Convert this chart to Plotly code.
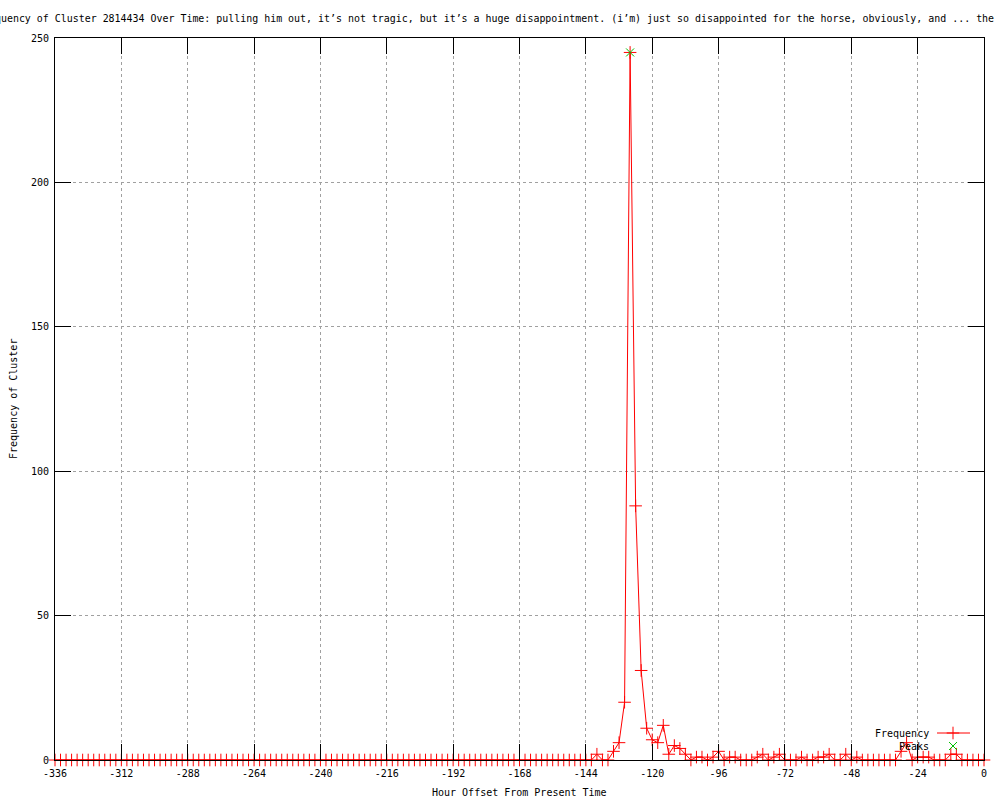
import plotly.graph_objects as go

# ---- data ----
hours = list(range(-336, 1, 2))
frequency = [
    # -336 .. -290
    0, 0, 0, 0, 0, 0, 0, 0, 0, 0, 0, 0, 0, 0, 0, 0, 0, 0, 0, 0, 0, 0, 0, 0,
    # -288 .. -242
    0, 0, 0, 0, 0, 0, 0, 0, 0, 0, 0, 0, 0, 0, 0, 0, 0, 0, 0, 0, 0, 0, 0, 0,
    # -240 .. -194
    0, 0, 0, 0, 0, 0, 0, 0, 0, 0, 0, 0, 0, 0, 0, 0, 0, 0, 0, 0, 0, 0, 0, 0,
    # -192 .. -146
    0, 0, 0, 0, 0, 0, 0, 0, 0, 0, 0, 0, 0, 0, 0, 0, 0, 0, 0, 0, 0, 0, 0, 0,
    # -144 .. -98
    0, 0, 2, 0, 0, 3, 6, 20, 245, 88, 31, 11, 7, 6, 12, 2, 5, 4, 2, 0, 1, 1, 0, 1,
    # -96 .. -50
    3, 0, 1, 1, 0, 0, 0, 1, 2, 0, 1, 2, 0, 0, 0, 1, 0, 0, 1, 1, 2, 0, 0, 2,
    # -48 .. -2
    0, 1, 0, 0, 0, 0, 0, 0, 0, 3, 6, 0, 1, 1, 1, 0, 0, 0, 2, 2, 0, 0, 0, 0,
    # 0
    0,
]
peak_hours = [-128]
peak_values = [245]

x_ticks = list(range(-336, 1, 24))
x_tick_text = [str(v) for v in x_ticks]
y_ticks = [0, 50, 100, 150, 200, 250]
y_tick_text = [str(v) for v in y_ticks]

title_text = ("Frequency of Cluster 2814434 Over Time: pulling him out, it\u2019s not tragic, "
              "but it\u2019s a huge disappointment. (i\u2019m) just so disappointed for the horse, "
              "obviously, and ... the")

FONT = "DejaVu Sans Mono"
GRID = "#a0a0a0"

# plot-area geometry (pixels)
L, R, T, B = 55, 16, 38, 40
W, H = 1000, 800
PW, PH = W - L - R, H - T - B


def px_x(p):
    return (p - L) / PW


def px_y(p):
    return (H - B - p) / PH


fig = go.Figure()

fig.add_trace(go.Scatter(
    x=hours, y=frequency, mode="lines+markers", name="Frequency",
    line=dict(color="#ff0000", width=1),
    marker=dict(symbol="cross-thin", size=9, line=dict(color="#ff0000", width=1)),
    cliponaxis=False, showlegend=False,
))
fig.add_trace(go.Scatter(
    x=peak_hours, y=peak_values, mode="markers", name="Peaks",
    marker=dict(symbol="x-thin", size=8, line=dict(color="#00c000", width=1)),
    cliponaxis=False, showlegend=False,
))

# legend samples on an overlay axis in plot-fraction coordinates
leg_line_x = [px_x(937), px_x(970)]
leg_freq_y = px_y(733)
leg_peak_y = px_y(746)
fig.add_trace(go.Scatter(
    x=leg_line_x, y=[leg_freq_y, leg_freq_y], xaxis="x2", yaxis="y2",
    mode="lines", line=dict(color="#ff0000", width=1), showlegend=False, hoverinfo="skip",
))
fig.add_trace(go.Scatter(
    x=[px_x(953)], y=[leg_freq_y], xaxis="x2", yaxis="y2", mode="markers",
    marker=dict(symbol="cross-thin", size=9, line=dict(color="#ff0000", width=1)),
    showlegend=False, hoverinfo="skip",
))
fig.add_trace(go.Scatter(
    x=[px_x(953)], y=[leg_peak_y], xaxis="x2", yaxis="y2", mode="markers",
    marker=dict(symbol="x-thin", size=8, line=dict(color="#00c000", width=1)),
    showlegend=False, hoverinfo="skip",
))

axis_common = dict(
    showgrid=True, gridcolor=GRID, griddash="dot", gridwidth=1,
    ticks="inside", ticklen=16, tickcolor="black", tickwidth=1,
    showline=True, linecolor="black", linewidth=1, mirror="ticks",
    zeroline=False, tickfont=dict(family=FONT, size=10, color="black"),
    layer="above traces",
)

fig.update_layout(
    width=W, height=H,
    margin=dict(l=L, r=R, t=T, b=B, pad=0),
    paper_bgcolor="white", plot_bgcolor="white",
    font=dict(family=FONT, size=10, color="black"),
    xaxis=dict(range=[-336, 0], tickmode="array", tickvals=x_ticks, ticktext=x_tick_text,
               ticklabelstandoff=4, **axis_common),
    yaxis=dict(range=[0, 250], tickmode="array", tickvals=y_ticks, ticktext=y_tick_text,
               ticklabelstandoff=3, **axis_common),
    xaxis2=dict(range=[0, 1], overlaying="x", visible=False),
    yaxis2=dict(range=[0, 1], overlaying="y", visible=False),
    showlegend=False,
    annotations=[
        dict(text=title_text, xref="paper", yref="paper", x=px_x(-25), y=px_y(19),
             xanchor="left", yanchor="middle", showarrow=False,
             font=dict(family=FONT, size=9.95, color="black")),
        dict(text="Hour Offset From Present Time", xref="paper", yref="paper",
             x=0.5, y=px_y(792), xanchor="center", yanchor="middle", showarrow=False,
             font=dict(family=FONT, size=10, color="black")),
        dict(text="Frequency of Cluster", xref="paper", yref="paper",
             x=px_x(13), y=0.5, xanchor="center", yanchor="middle", textangle=-90,
             showarrow=False, font=dict(family=FONT, size=10, color="black")),
        dict(text="Frequency", xref="paper", yref="paper", x=px_x(931), y=leg_freq_y,
             xanchor="right", yanchor="middle", showarrow=False,
             font=dict(family=FONT, size=10, color="black")),
        dict(text="Peaks", xref="paper", yref="paper", x=px_x(931), y=leg_peak_y,
             xanchor="right", yanchor="middle", showarrow=False,
             font=dict(family=FONT, size=10, color="black")),
    ],
)

fig.write_html(
    "out.html",
    config={"displayModeBar": False},
    post_script="document.body.style.margin='0';document.body.style.overflow='hidden';",
)
